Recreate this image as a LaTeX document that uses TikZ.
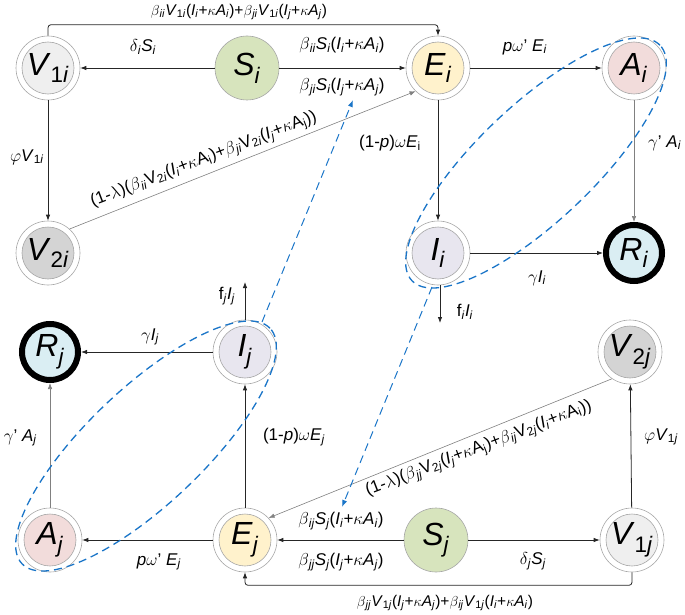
\documentclass[tikz,border=0pt]{standalone}
\usepackage{fontspec}
\setmainfont{Liberation Sans}
\usetikzlibrary{arrows.meta}
\definecolor{cVone}{HTML}{EFEFEF}
\definecolor{cVtwo}{HTML}{D4D4D4}
\definecolor{cS}{HTML}{D7E4BD}
\definecolor{cE}{HTML}{FFF2CC}
\definecolor{cA}{HTML}{F2DCDB}
\definecolor{cI}{HTML}{E8E6EF}
\definecolor{cR}{HTML}{DAEEF3}
\definecolor{ringc}{HTML}{A6A6A6}
\definecolor{blu}{HTML}{1A75C8}
\definecolor{lnc}{HTML}{262626}
\newcommand\nodefont{\fontsize{32}{36}\selectfont}
\newcommand\labfont{\fontsize{17}{19}\selectfont}
\newcommand\longfont{\fontsize{15.5}{17}\selectfont}
\newcommand\slfont{\fontsize{17}{19}\selectfont}
\newcommand\sx[2]{\textit{#1}\textsubscript{\textit{#2}}}
\newcommand\gx[2]{$#1$\textsubscript{\textit{#2}}}
\newcommand\vx[2]{\textit{V}\textsubscript{#1\textit{#2}}}
\begin{document}
\begin{tikzpicture}[x=1pt,y=-1pt,
 ring/.style={circle, draw=ringc, line width=0.6pt, minimum size=64pt, inner sep=0pt, font=\nodefont,
   path picture={\draw[ringc, line width=0.6pt, fill=#1] (path picture bounding box.center) circle[radius=26pt];}},
 snode/.style={circle, draw=ringc, line width=0.6pt, fill=cS, minimum size=64pt, inner sep=0pt, font=\nodefont},
 rnode/.style={circle, draw=black, line width=6pt, fill=cR, minimum size=56pt, inner sep=0pt, font=\nodefont},
 flow/.style={draw=lnc, line width=0.8pt, -{Latex[length=6pt,width=4.5pt]}},
 gflow/.style={draw=gray, line width=0.6pt, -{Latex[length=6pt,width=4.5pt]}},
 lab/.style={font=\labfont, inner sep=1pt},
 longlab/.style={font=\longfont, inner sep=1pt},
 slab/.style={font=\slfont, inner sep=1pt, rotate=21},
 bdash/.style={draw=blu, line width=1.3pt, dash pattern=on 8pt off 5pt},
]
\useasboundingbox (0,0) rectangle (685,615);
% nodes
\node[ring=cVone] (V1i) at (48,68) {\vx{1}{i}};
\node[snode] (Si) at (247,68) {\sx{S}{i}};
\node[ring=cE] (Ei) at (438,68) {\sx{E}{i}};
\node[ring=cA] (Ai) at (634,68) {\sx{A}{i}};
\node[ring=cVtwo] (V2i) at (48,253) {\vx{2}{i}};
\node[ring=cI] (Ii) at (438,253) {\sx{I}{i}};
\node[rnode] (Ri) at (634,253) {\sx{R}{i}};
\node[rnode] (Rj) at (50,352) {\sx{R}{j}};
\node[ring=cI] (Ij) at (245,352) {\sx{I}{j}};
\node[ring=cVtwo] (V2j) at (630,352) {\vx{2}{j}};
\node[ring=cA] (Aj) at (50,540) {\sx{A}{j}};
\node[ring=cE] (Ej) at (245,540) {\sx{E}{j}};
\node[snode] (Sj) at (436,540) {\sx{S}{j}};
\node[ring=cVone] (V1j) at (632,540) {\vx{1}{j}};
% i side connectors
\draw[flow] (Si) -- (V1i);
\draw[flow] (Si) -- (Ei);
\draw[flow, rounded corners=3pt] (V1i.north) -- ++(0,-11) -| (Ei.north);
\draw[flow] (Ei) -- (Ai);
\draw[flow] (V1i) -- (V2i);
\draw[gflow] (V2i.48) -- (Ei.226);
\draw[flow] (Ei) -- (Ii);
\draw[gflow] (Ai) -- (Ri);
\draw[flow] (Ii) -- (Ri);
\coordinate (fi) at (440,323);
\draw[flow] (Ii.south -| fi) -- (fi);
% j side connectors
\draw[flow] (Sj) -- (V1j);
\draw[flow] (Sj) -- (Ej);
\draw[flow, rounded corners=3pt] (V1j.south) -- ++(0,13) -| (Ej.south);
\draw[flow] (Ej) -- (Aj);
\draw[flow] (V1j) -- (V2j);
\draw[gflow] (V2j.236) -- (Ej.43);
\draw[flow] (Ej) -- (Ij);
\draw[gflow] (Aj) -- (Rj);
\draw[flow] (Ij) -- (Rj);
\coordinate (fj) at (245,282);
\draw[flow] (Ij.north) -- (fj);
% labels i
\node[longlab] (l1) at (239,12) {\gx{\beta}{ii}\vx{1}{i}(\sx{I}{i}+$\kappa$\sx{A}{i})+\gx{\beta}{ji}\vx{1}{i}(\sx{I}{j}+$\kappa$\sx{A}{j})};
\node[lab] (l2) at (143,47) {\gx{\delta}{i}\sx{S}{i}};
\node[lab] (l3) at (342,45) {\gx{\beta}{ii}\sx{S}{i}(\sx{I}{i}+$\kappa$\sx{A}{i})};
\node[lab] (l4) at (342,87) {\gx{\beta}{ji}\sx{S}{i}(\sx{I}{j}+$\kappa$\sx{A}{j})};
\node[lab] (l5) at (525,47) {\textit{p}$\omega$\textquoteright\ \sx{E}{i}};
\node[lab, anchor=east] (l6) at (45,157) {$\varphi$\vx{1}{i}};
\node[slab] (l7) at (204,160) {(1-$\lambda$)($\beta$\textsubscript{\textit{ii}}V\textsubscript{2\textit{i}}(\sx{I}{i}+$\kappa$A\textsubscript{i})+$\beta$\textsubscript{\textit{ji}}V\textsubscript{2\textit{i}}(\sx{I}{j}+$\kappa$A\textsubscript{j}))};
\node[lab] (l8) at (390,143) {(1-\textit{p})$\omega$\textit{E}\textsubscript{i}};
\node[lab, anchor=west] (l9) at (647,143) {$\gamma$\textquoteright\ \sx{A}{i}};
\node[lab] (l10) at (537,278) {$\gamma$\sx{I}{i}};
\node[lab] (l11) at (465,312) {f\textsubscript{\textit{i}}\sx{I}{i}};
% labels j
\node[longlab] (m1) at (445,603) {\gx{\beta}{jj}\vx{1}{j}(\sx{I}{j}+$\kappa$\sx{A}{j})+\gx{\beta}{ij}\vx{1}{j}(\sx{I}{i}+$\kappa$\sx{A}{i})};
\node[lab] (m2) at (533,561) {\gx{\delta}{j}\sx{S}{j}};
\node[lab] (m3) at (341,521) {\gx{\beta}{ij}\sx{S}{j}(\sx{I}{i}+$\kappa$\sx{A}{i})};
\node[lab] (m4) at (341,562) {\gx{\beta}{jj}\sx{S}{j}(\sx{I}{j}+$\kappa$\sx{A}{j})};
\node[lab] (m5) at (159,562) {\textit{p}$\omega$\textquoteright\ \sx{E}{j}};
\node[lab, anchor=west] (m6) at (643,437) {$\varphi$\vx{1}{j}};
\node[slab] (m7) at (479,449) {(1-$\lambda$)($\beta$\textsubscript{\textit{jj}}V\textsubscript{2\textit{j}}(\sx{I}{j}+$\kappa$A\textsubscript{j})+$\beta$\textsubscript{\textit{ij}}V\textsubscript{2\textit{j}}(\sx{I}{i}+$\kappa$A\textsubscript{i}))};
\node[lab] (m8) at (294,437) {(1-\textit{p})$\omega$\sx{E}{j}};
\node[lab, anchor=east] (m9) at (38,438) {$\gamma$\textquoteright\ \sx{A}{j}};
\node[lab] (m10) at (150,337) {$\gamma$\sx{I}{j}};
\node[lab] (m11) at (227,296) {f\textsubscript{\textit{j}}\sx{I}{j}};
% blue dashed groups
\begin{scope}[shift={(536,163)}, rotate=43.5]
\draw[bdash] (0,0) ellipse [x radius=171pt, y radius=58pt];
\end{scope}
\begin{scope}[shift={(146,446)}, rotate=43.5]
\draw[bdash] (0,0) ellipse [x radius=171pt, y radius=58pt];
\end{scope}
\coordinate (b1s) at (262,322);
\coordinate (b1e) at (353,100);
\coordinate (b2s) at (432,287);
\coordinate (b2e) at (342,507);
\draw[bdash, line width=1pt, -{Latex[length=7pt,width=5pt]}] (b1s) -- (b1e);
\draw[bdash, line width=1pt, -{Latex[length=7pt,width=5pt]}] (b2s) -- (b2e);
\end{tikzpicture}
\end{document}
